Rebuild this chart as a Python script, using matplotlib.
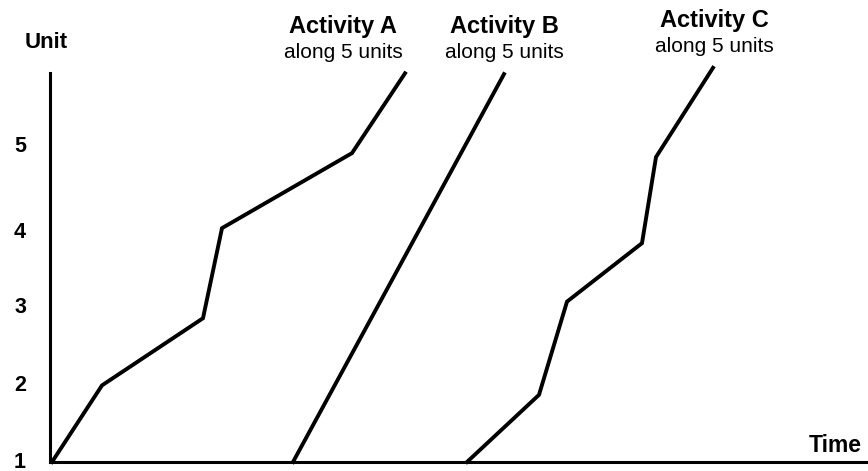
import matplotlib
matplotlib.use("Agg")
import matplotlib.pyplot as plt

plt.rcParams['font.family'] = ['Liberation Sans', 'DejaVu Sans']

# Data (time in arbitrary units, unit progress)
act_a_time = [0.2, 5.2, 15.3, 17.2, 30.2, 35.5]
act_a_unit = [1.0, 1.97, 2.82, 3.96, 4.91, 5.92]
act_b_time = [24.3, 45.4]
act_b_unit = [1.0, 5.91]
act_c_time = [41.7, 48.9, 51.7, 59.2, 60.6, 66.3]
act_c_unit = [1.0, 1.85, 3.03, 3.77, 4.86, 5.99]

tick_pos = [1.0, 1.97, 2.95, 3.91, 5.0]
tick_labels = ['1', '2', '3', '4', '5']

activities = ['Activity A', 'Activity B', 'Activity C']
subtitles = ['along 5 units', 'along 5 units', 'along 5 units']

W, H = 868, 471
fig = plt.figure(figsize=(W / 100, H / 100), dpi=100)
ax = fig.add_axes([50 / W, 9 / H, 818 / W, 462 / H])
ax.set_xlim(0, 81.8)
ax.set_ylim(1, 1 + 462 / 79)

for t, u in [(act_a_time, act_a_unit), (act_b_time, act_b_unit), (act_c_time, act_c_unit)]:
    ax.plot(t, u, color='black', lw=2.8, solid_joinstyle='miter', clip_on=False)

for s in ['top', 'right']:
    ax.spines[s].set_visible(False)
ax.spines['left'].set_linewidth(2.2)
ax.spines['bottom'].set_linewidth(2.2)
ax.spines['left'].set_bounds(1, 1 + (462 - 73) / 79)
ax.set_xticks([])
ax.set_yticks([])

# tick labels as text
for p, lab in zip(tick_pos, tick_labels):
    ax.text(-3.0, p, lab, ha='center', va='center', fontsize=15.5, fontweight='bold')

def fx(px):
    return px / W

def fy(py):
    return 1 - py / H

fig.text(fx(46), fy(43), 'Unit', ha='center', va='center', fontsize=16, fontweight='bold')
fig.text(fx(835), fy(445), 'Time', ha='center', va='center', fontsize=16.5, fontweight='bold')

title_pos = [(343, 26, 52), (504, 26, 53), (714, 20, 47)]
for name, sub, (x, y1, y2) in zip(activities, subtitles, title_pos):
    fig.text(fx(x), fy(y1), name, ha='center', va='center', fontsize=17, fontweight='bold')
    fig.text(fx(x), fy(y2), sub, ha='center', va='center', fontsize=15)

fig.savefig('out.png', dpi=100)
